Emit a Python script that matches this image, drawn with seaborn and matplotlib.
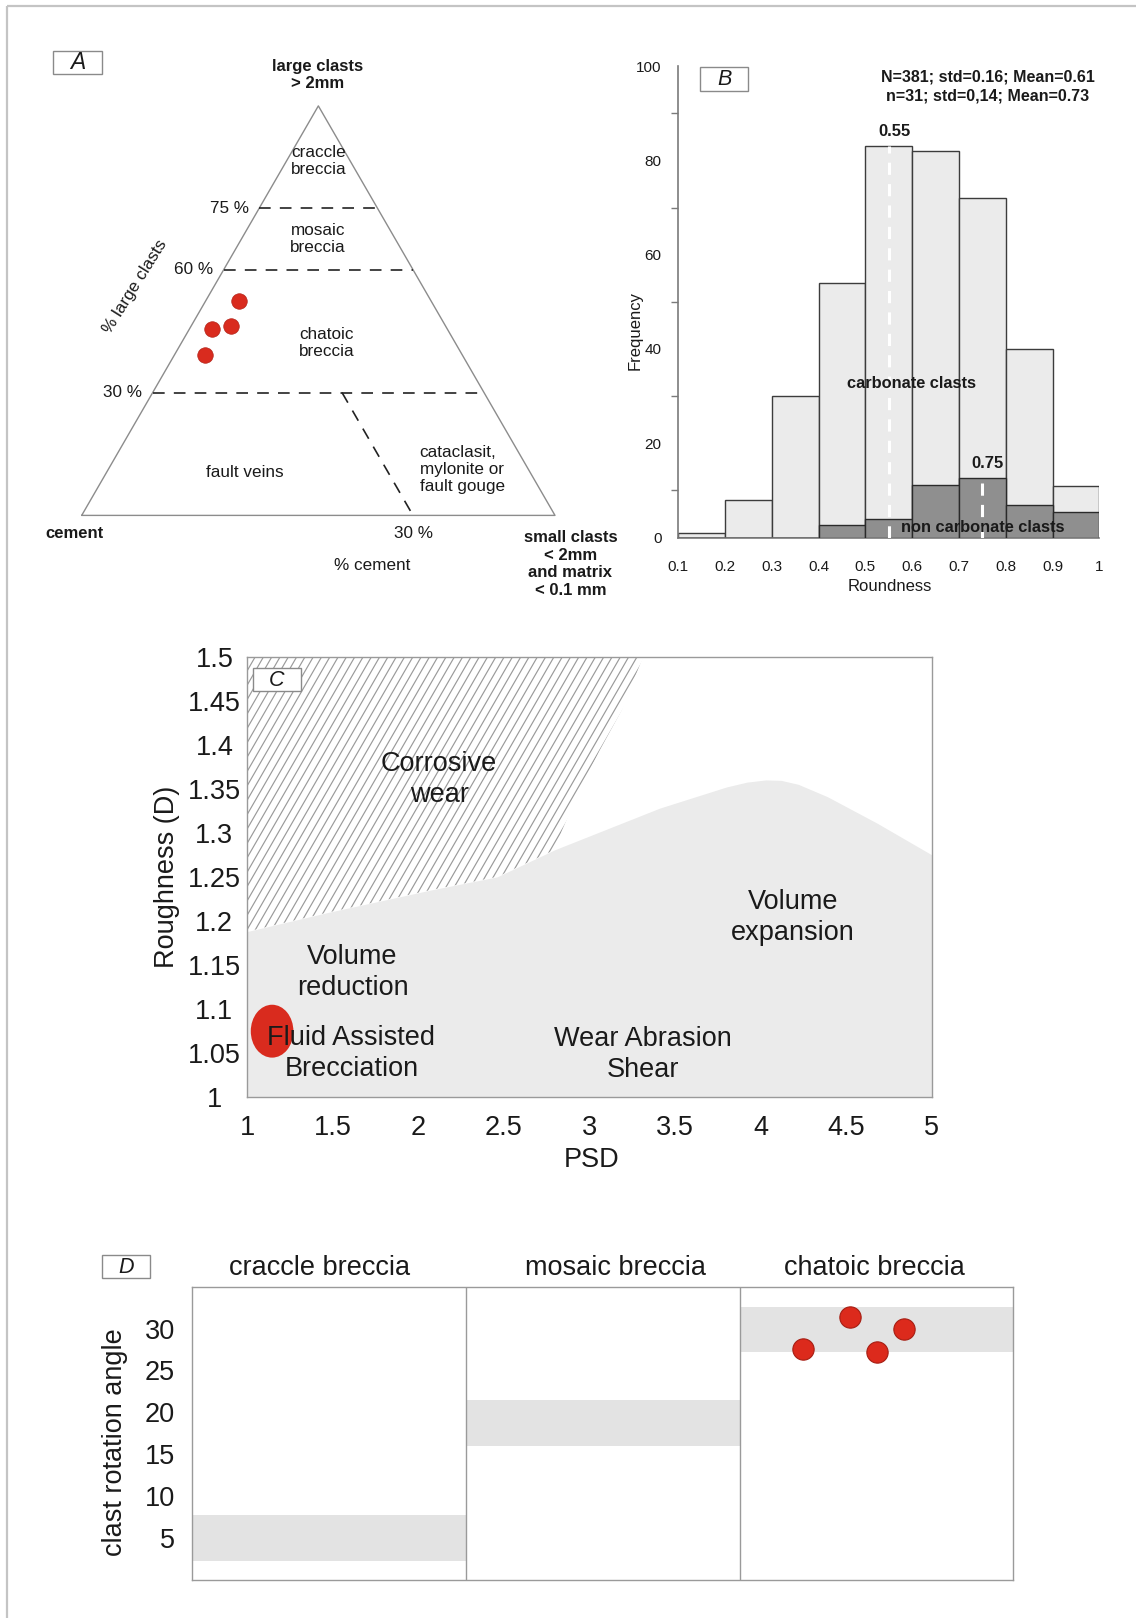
import numpy as np
import matplotlib
matplotlib.use("Agg")
import matplotlib.pyplot as plt
import seaborn as sns
from matplotlib.patches import Ellipse, Rectangle, Polygon
from matplotlib.collections import LineCollection
from matplotlib.transforms import blended_transform_factory

# ---------------------------------------------------------------- data
# A: breccia classification (ternary: large clasts / small clasts+matrix / cement)
large_pct = [52.4, 45.6, 46.3, 39.2]
small_pct = [7.1, 4.7, 8.3, 6.4]
cement_pct = [100 - l - s for l, s in zip(large_pct, small_pct)]
large_limits = [75, 60, 30]
cement_limit = 30

# B: roundness histograms
round_edges = [0.1, 0.2, 0.3, 0.4, 0.5, 0.6, 0.7, 0.8, 0.9, 1.0]
carbonate_counts = [1, 8, 30, 54, 83, 82, 72, 40, 11]
noncarbonate_counts = [0, 0, 0, 2.6, 4.0, 11.2, 12.6, 6.9, 5.4]
carbonate_mode = 0.55
noncarbonate_mode = 0.75
stats_lines = ["N=381; std=0.16; Mean=0.61", "n=31; std=0,14; Mean=0.73"]

# C: roughness vs particle size distribution fields
psd_boundary = [1.0, 1.48, 2.07, 2.46, 2.80, 3.41, 3.80, 3.92, 4.03, 4.12, 4.22, 4.39, 4.68, 5.0]
rough_boundary = [1.188, 1.21, 1.235, 1.25, 1.281, 1.328, 1.352, 1.3575, 1.36, 1.3595,
                  1.355, 1.341, 1.311, 1.275]
corrosive_psd = [2.80, 2.84, 2.935, 3.061, 3.188, 3.314]
corrosive_rough = [1.281, 1.303, 1.345, 1.394, 1.439, 1.5]
sample_psd, sample_rough = 1.146, 1.075
sample_psd_range, sample_rough_range = 0.249, 0.060

# D: clast rotation angle per breccia type
breccia_types = ["craccle breccia", "mosaic breccia", "chatoic breccia"]
rotation_low = [2.3, 16.0, 27.2]
rotation_high = [7.7, 21.5, 32.6]
chatoic_offsets = [0.233, 0.404, 0.503, 0.599]
chatoic_angles = [27.6, 31.35, 27.2, 29.95]

# ---------------------------------------------------------------- style
sns.set_style("white")
plt.rcParams["font.family"] = ["Liberation Sans", "DejaVu Sans"]
plt.rcParams["axes.linewidth"] = 1.0
INK = "#1a1a1a"
AXIS_GREY = "#9a9a9a"
RED = "#d92b1e"

W, H = 1136, 1618
fig = plt.figure(figsize=(W / 100, H / 100), dpi=100)


def px_axes(left, top, right, bottom):
    return fig.add_axes([left / W, 1 - bottom / H, (right - left) / W, (bottom - top) / H])


# ---------------------------------------------------------------- A
axA = px_axes(81.7, 105.9, 555.0, 515.4)
axA.set_xlim(0, 1)
axA.set_ylim(0, 1)
axA.axis("off")
a_font = 12.3


def tern(large, small):
    l = np.asarray(large, dtype=float) / 100
    s = np.asarray(small, dtype=float) / 100
    return s + l / 2, l


axA.plot([0, 1, 0.5, 0], [0, 0, 1, 0], color="#8c8c8c", lw=1, clip_on=False)
for lim in large_limits:
    f = lim / 100
    axA.plot([f / 2, 1 - f / 2], [f, f], color="#222222", lw=1.2, dashes=(7, 5.5), clip_on=False)
    axA.text(f / 2 - 0.022, f, f"{lim} %", ha="right", va="center", fontsize=a_font, color=INK)

cx, cy = tern([large_limits[-1], 0], [100 - large_limits[-1] - cement_limit, 100 - cement_limit])
axA.plot(cx, cy, color="#222222", lw=1.2, dashes=(7, 5.5), clip_on=False)
axA.text(cx[1], -0.045, f"{cement_limit} %", ha="center", va="center", fontsize=a_font, color=INK)

px, py = tern(large_pct, small_pct)
sns.scatterplot(x=px, y=py, ax=axA, s=125, color=RED, edgecolor="#b3241a",
                linewidth=0.5, zorder=5, clip_on=False)

axA.text(0.499, 1.0755, "large clasts\n> 2mm", ha="center", va="center",
         fontsize=12, fontweight="bold", color=INK, linespacing=1.15)
axA.text(-0.077, -0.045, "cement", ha="left", va="center", fontsize=12,
         fontweight="bold", color=INK)
axA.text(1.0325, -0.119, "small clasts\n< 2mm\nand matrix\n< 0.1 mm", ha="center",
         va="center", fontsize=12, fontweight="bold", color=INK, linespacing=1.22)
axA.text(0.613, -0.122, "% cement", ha="center", va="center", fontsize=a_font, color=INK)
axA.text(0.113, 0.56, "% large clasts", ha="center", va="center", rotation=58,
         fontsize=a_font, color=INK)
axA.text(0.501, 0.866, "craccle\nbreccia", ha="center", va="center", fontsize=a_font, color=INK)
axA.text(0.499, 0.675, "mosaic\nbreccia", ha="center", va="center", fontsize=a_font, color=INK)
axA.text(0.518, 0.421, "chatoic\nbreccia", ha="center", va="center", fontsize=a_font, color=INK)
axA.text(0.345, 0.104, "fault veins", ha="center", va="center", fontsize=a_font, color=INK)
axA.text(0.714, 0.112, "cataclasit,\nmylonite or\nfault gouge", ha="left", va="center",
         fontsize=a_font, color=INK)

# ---------------------------------------------------------------- B
axB = px_axes(678.3, 66.1, 1099.3, 537.5)
centers = [(a + b) / 2 for a, b in zip(round_edges[:-1], round_edges[1:])]
sns.histplot(x=centers, weights=carbonate_counts, bins=round_edges, ax=axB,
             color="#ebebeb", edgecolor="#3c3c3c", linewidth=1, alpha=1, zorder=2)
sns.histplot(x=centers, weights=noncarbonate_counts, bins=round_edges, ax=axB,
             color="#8f8f8f", edgecolor="#2a2a2a", linewidth=1, alpha=1, zorder=3)

for mode, counts in [(carbonate_mode, carbonate_counts), (noncarbonate_mode, noncarbonate_counts)]:
    idx = int(np.searchsorted(round_edges, mode)) - 1
    top = counts[idx]
    axB.plot([mode, mode], [0, top], color="white", lw=2.2, dashes=(4, 3), zorder=4)
    axB.text(mode + 0.012, top + 3.2, f"{mode:.2f}", ha="center", va="center",
             fontsize=12, fontweight="bold", color=INK, zorder=6)

axB.text(0.762, 95.7, "\n".join(stats_lines), ha="center", va="center", fontsize=11.5,
         fontweight="bold", color=INK, linespacing=1.35)
axB.text(0.599, 32.7, "carbonate clasts", ha="center", va="center", fontsize=11.8,
         fontweight="bold", color=INK, zorder=6)
axB.text(0.751, 2.2, "non carbonate clasts", ha="center", va="center", fontsize=11.8,
         fontweight="bold", color=INK, zorder=6)

axB.set_xlim(round_edges[0], round_edges[-1])
axB.set_ylim(0, 100)
axB.set_xticks(round_edges)
axB.set_xticklabels([f"{v:g}" for v in round_edges])
axB.set_yticks(range(0, 101, 20))
axB.set_yticks(range(10, 100, 20), minor=True)
for side in ["top", "right"]:
    axB.spines[side].set_visible(False)
for side in ["left", "bottom"]:
    axB.spines[side].set_color("#7a7a7a")
    axB.spines[side].set_linewidth(1.2)
axB.tick_params(axis="x", which="major", direction="out", length=10, width=1,
                color="#7a7a7a", pad=6, labelsize=11, labelcolor=INK)
axB.tick_params(axis="y", which="major", direction="out", length=10.8, width=1,
                color="#7a7a7a", pad=1.2, labelsize=11, labelcolor=INK)
axB.tick_params(axis="y", which="minor", direction="out", length=4.8, width=1,
                color="#7a7a7a", left=True)
axB.set_xlabel("Roundness", fontsize=12, color=INK, va="center")
axB.xaxis.set_label_coords(0.503, -0.104)
axB.set_ylabel("Frequency", fontsize=12, color=INK, va="center")
axB.yaxis.set_label_coords(-0.103, 0.439)

# ---------------------------------------------------------------- C
axC = px_axes(247.1, 656.5, 931.8, 1097.3)
axC.set_xlim(1, 5)
axC.set_ylim(1, 1.5)
axC.fill_between(psd_boundary, 1.0, rough_boundary, color="#ebebeb", lw=0, zorder=1)

# corrosive-wear field: outline, then clipped diagonal hatching
hx = [psd_boundary[0], psd_boundary[0]]
hy = [1.5, rough_boundary[0]]
for x, y in zip(psd_boundary[1:], rough_boundary[1:]):
    if x < corrosive_psd[0]:
        hx.append(x)
        hy.append(y)
hx += corrosive_psd
hy += corrosive_rough
field = Polygon(np.column_stack([hx, hy]), closed=True, facecolor="none", edgecolor="none")
axC.add_patch(field)
bbox = axC.get_position()
w_px, h_px = bbox.width * W, bbox.height * H
(x0, x1), (y0, y1) = axC.get_xlim(), axC.get_ylim()
slope = np.tan(np.radians(60)) * ((y1 - y0) / h_px) / ((x1 - x0) / w_px)
step = 8.3 * (x1 - x0) / w_px
rise = (y1 - y0) / slope
starts = np.arange(x0 - rise, max(corrosive_psd) + step, step)
segs = [[(s, y0), (s + rise, y1)] for s in starts]
hatch = LineCollection(segs, colors="#9a9a9a", linewidths=0.85, zorder=1)
axC.add_collection(hatch)
hatch.set_clip_path(field)

axC.add_patch(Ellipse((sample_psd, sample_rough), sample_psd_range, sample_rough_range,
                      facecolor=RED, edgecolor="none", zorder=3))

c_font = 19.5
c_ls = 1.24
axC.text(2.122, 1.3608, "Corrosive\nwear", ha="center", va="center", fontsize=c_font,
         color=INK, linespacing=c_ls, zorder=4)
axC.text(4.19, 1.204, "Volume\nexpansion", ha="center", va="center", fontsize=c_font,
         color=INK, linespacing=c_ls, zorder=4)
axC.text(1.616, 1.1416, "Volume\nreduction", ha="center", va="center", fontsize=c_font,
         color=INK, linespacing=c_ls, zorder=4)
axC.text(1.609, 1.0499, "Fluid Assisted\nBrecciation", ha="center", va="center",
         fontsize=c_font, color=INK, linespacing=c_ls, zorder=4)
axC.text(3.311, 1.049, "Wear Abrasion\nShear", ha="center", va="center", fontsize=c_font,
         color=INK, linespacing=c_ls, zorder=4)

psd_ticks = np.arange(1, 5.001, 0.5)
rough_ticks = np.arange(1, 1.5001, 0.05)
axC.set_xticks(psd_ticks)
axC.set_xticklabels([f"{v:g}" for v in psd_ticks])
axC.set_yticks(rough_ticks)
axC.set_yticklabels([f"{v:g}" for v in np.round(rough_ticks, 2)])
for sp in axC.spines.values():
    sp.set_color(AXIS_GREY)
    sp.set_linewidth(1)
axC.tick_params(axis="x", direction="out", length=3.6, width=1, color=AXIS_GREY,
                pad=9, labelsize=c_font, labelcolor=INK)
axC.tick_params(axis="y", direction="out", length=3.6, width=1, color=AXIS_GREY,
                pad=20, labelsize=c_font, labelcolor=INK)
plt.setp(axC.get_yticklabels(), ha="center")
axC.set_xlabel("PSD", fontsize=c_font, color=INK, va="center")
axC.xaxis.set_label_coords(0.503, -0.142)
axC.set_ylabel("Roughness (D)", fontsize=c_font, color=INK, va="center")
axC.yaxis.set_label_coords(-0.1177, 0.5)

# ---------------------------------------------------------------- D
axD = px_axes(192.3, 1286.7, 1013.3, 1580.0)
slots = np.arange(len(breccia_types))
axD.bar(slots + 0.5, np.subtract(rotation_high, rotation_low), bottom=rotation_low,
        width=1.0, color="#e3e3e3", lw=0, zorder=1)
for i in slots[1:]:
    axD.axvline(i, color=AXIS_GREY, lw=1, zorder=2)
sns.scatterplot(x=np.add(chatoic_offsets, breccia_types.index("chatoic breccia")),
                y=chatoic_angles, ax=axD, s=235, color="#dc2a1c", edgecolor="#a51d12",
                linewidth=0.8, zorder=5)

header_nudge = [-0.036, 0.048, -0.007]
hdr = blended_transform_factory(axD.transData, axD.transAxes)
for i, name in enumerate(breccia_types):
    axD.text(i + 0.5 + header_nudge[i], 1.063, name, transform=hdr, ha="center",
             va="center", fontsize=c_font, color=INK)

axD.set_xlim(0, 3)
axD.set_ylim(0, 35)
axD.set_xticks([])
axD.set_yticks(range(5, 31, 5))
for sp in axD.spines.values():
    sp.set_color(AXIS_GREY)
    sp.set_linewidth(1)
axD.tick_params(axis="y", direction="inout", length=10, width=1, color=AXIS_GREY,
                pad=7.4, labelsize=c_font, labelcolor=INK)
axD.set_ylabel("clast rotation angle", fontsize=c_font, color=INK, va="center")
axD.yaxis.set_label_coords(-0.0942, 0.4715)

# ---------------------------------------------------------------- frame and panel tags
axO = fig.add_axes([0, 0, 1, 1], zorder=10)
axO.set_xlim(0, W)
axO.set_ylim(H, 0)
axO.axis("off")
axO.patch.set_alpha(0)
axO.plot([7, W], [6, 6], color="#c4c4c4", lw=1.6, solid_capstyle="butt")
axO.plot([7, 7], [6, H], color="#c4c4c4", lw=1.6, solid_capstyle="butt")

tags = [("A", 53.3, 50.7, 101.7, 74.0, 16.5),
        ("B", 700.0, 67.3, 748.3, 90.7, 15.5),
        ("C", 252.7, 668.3, 301.0, 691.0, 15.5),
        ("D", 102.3, 1255.0, 150.0, 1278.3, 15.5)]
for letter, l, t, r, b, fs in tags:
    axO.add_patch(Rectangle((l, t), r - l, b - t, facecolor="white", edgecolor="#8a8a8a", lw=1))
    axO.text((l + r) / 2, (t + b) / 2 + 0.5, letter, ha="center", va="center",
             fontsize=fs, fontstyle="italic", color=INK)

fig.savefig("out.png", dpi=100)
